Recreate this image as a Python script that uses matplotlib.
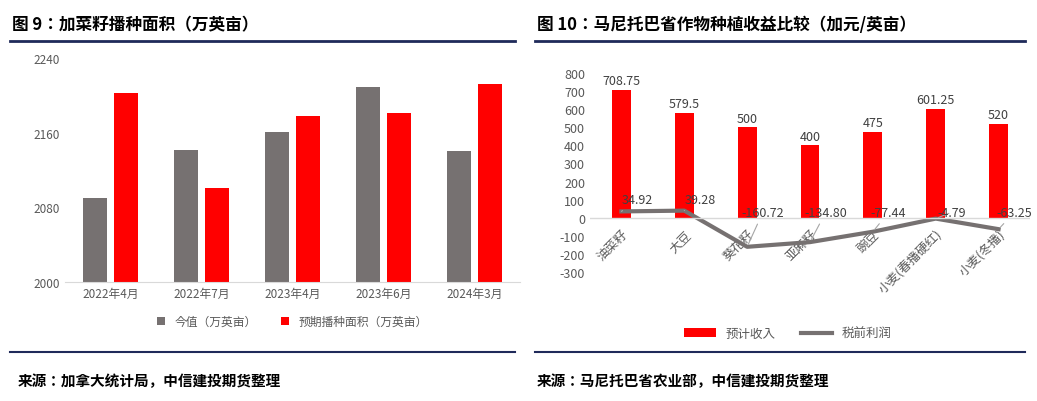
import matplotlib.pyplot as plt
import numpy as np

plt.rcParams['font.family'] = ['Noto Sans CJK SC', 'Noto Sans CJK JP', 'Noto Sans CJK TC',
                               'Noto Sans CJK KR', 'DejaVu Sans']
plt.rcParams['axes.unicode_minus'] = False

# left chart data
years = ['2022年4月', '2022年7月', '2023年4月', '2023年6月', '2024年3月']
current = [2090, 2141, 2161, 2209, 2140]
expected = [2203, 2101, 2178, 2181, 2212]

# right chart data
crops = ['油菜籽', '大豆', '葵花籽', '亚麻籽', '豌豆', '小麦(春播硬红)', '小麦(冬播)']
income = [708.75, 579.5, 500, 400, 475, 601.25, 520]
profit = [34.92, 39.28, -160.72, -134.80, -77.44, -4.79, -63.25]
profit_labels = ['34.92', '39.28', '-160.72', '-134.80', '-77.44', '-4.79', '-63.25']

W, H = 1037, 402
fig = plt.figure(figsize=(W / 100, H / 100), dpi=100)
navy = '#1f2a5a'

def fx(px):
    return px / W

def fy(py):
    return 1 - py / H

# headers, rules and sources
fig.text(fx(12), fy(25), '图 9：加菜籽播种面积（万英亩）', fontsize=12, fontweight='bold', va='center')
fig.text(fx(537), fy(25), '图 10：马尼托巴省作物种植收益比较（加元/英亩）', fontsize=12, fontweight='bold', va='center')
for x0, x1 in [(10, 515), (535, 1025)]:
    fig.add_artist(plt.Line2D([fx(x0), fx(x1)], [fy(42), fy(42)], color=navy, lw=2))
    fig.add_artist(plt.Line2D([fx(x0), fx(x1)], [fy(353), fy(353)], color=navy, lw=1.5))
fig.text(fx(18), fy(381), '来源：加拿大统计局，中信建投期货整理', fontsize=10.5, fontweight='bold', style='italic', va='center')
fig.text(fx(537), fy(381), '来源：马尼托巴省农业部，中信建投期货整理', fontsize=10.5, fontweight='bold', style='italic', va='center')

# left chart
ax = fig.add_axes([fx(65), fy(283), fx(455), fy(59) - fy(283)])
x = np.arange(len(years))
w = 0.27
ax.bar(x - 0.17, current, w, color='#767171', label='今值（万英亩）')
ax.bar(x + 0.17, expected, w, color='#ff0000', label='预期播种面积（万英亩）')
ax.set_ylim(2000, 2240)
ax.set_yticks([2000, 2080, 2160, 2240])
ax.set_xlim(-0.5, len(years) - 0.5)
ax.set_xticks(x)
ax.set_xticklabels(years)
for s in ['top', 'right', 'left']:
    ax.spines[s].set_visible(False)
ax.spines['bottom'].set_color('#d9d9d9')
ax.tick_params(length=0, labelsize=8.5, colors='#595959')
ax.legend(loc='upper center', bbox_to_anchor=(0.5, -0.1), ncol=2, frameon=False,
          fontsize=8.5, handlelength=0.7, handleheight=0.7, labelcolor='#595959')

# right chart
ax2 = fig.add_axes([fx(590), fy(273), fx(440), fy(74) - fy(273)])
x2 = np.arange(len(crops))
bars = ax2.bar(x2, income, 0.3, color='#ff0000', label='预计收入')
line, = ax2.plot(x2, profit, color='#767171', lw=3, label='税前利润')
for i, v in enumerate(income):
    ax2.text(i, v + 15, f'{v:g}', ha='center', va='bottom', fontsize=9, color='#404040')
for i, v in enumerate(profit):
    ax2.annotate(profit_labels[i], (i, v), xytext=(i + 0.25, 100 if i < 2 else 30),
                 ha='center', va='center', fontsize=9, color='#404040',
                 arrowprops=dict(arrowstyle='-', color='#a6a6a6', lw=0.8))
ax2.axhline(0, color='#d9d9d9', lw=1)
ax2.set_ylim(-300, 800)
ax2.set_yticks(range(-300, 801, 100))
ax2.set_xlim(-0.5, len(crops) - 0.5)
ax2.set_xticks(x2)
ax2.set_xticklabels(crops, rotation=45, ha='right', va='top', rotation_mode='anchor')
for lab in ax2.get_xticklabels():
    lab.set_y(0.25)
for s in ax2.spines.values():
    s.set_visible(False)
ax2.tick_params(length=0, labelsize=9, colors='#595959')
ax2.legend([bars, line], ['预计收入', '税前利润'], loc='upper center', bbox_to_anchor=(0.45, -0.22),
           ncol=2, frameon=False, fontsize=9, handlelength=2.5, labelcolor='#595959')

fig.savefig('out.png', dpi=100)
